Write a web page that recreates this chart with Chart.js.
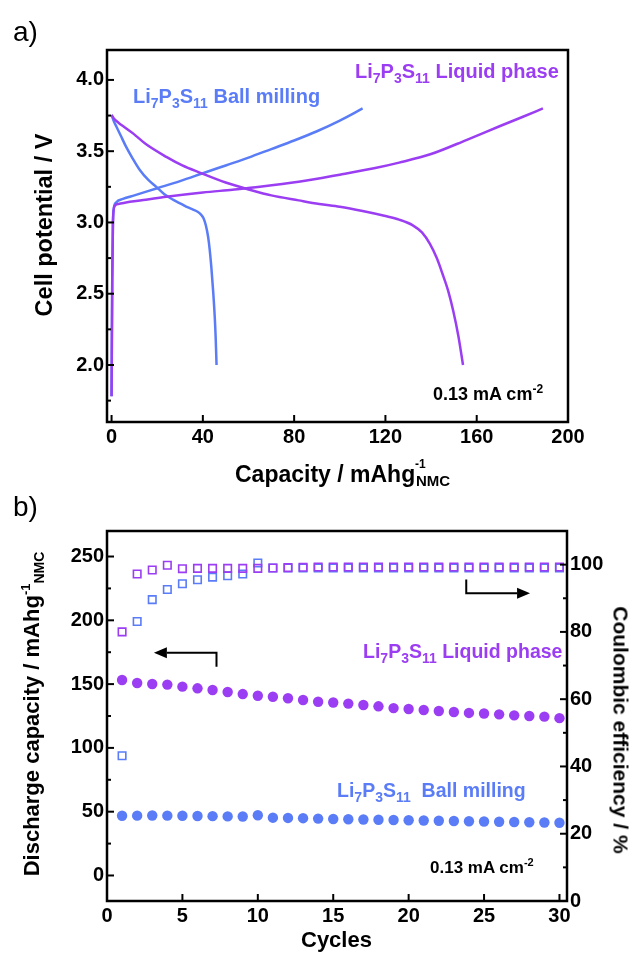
<!DOCTYPE html>
<html><head><meta charset="utf-8">
<script src="https://cdn.jsdelivr.net/npm/chart.js@4.4.1/dist/chart.umd.min.js"></script>
<style>
html,body{margin:0;padding:0;background:#fff;}
#wrap{position:relative;width:636px;height:954px;overflow:hidden;font-family:"Liberation Sans",Arial,sans-serif;}
canvas{position:absolute;left:0;}
.t{position:absolute;white-space:nowrap;line-height:1;font-weight:bold;color:#000;}
.n{font-weight:normal;}
.b{color:#5a7cf7;}
.p{color:#9b3df2;}
.s{font-size:14px;position:relative;top:5px;}
.rot{transform:translate(-50%,-50%) rotate(-90deg);}
.rot2{transform:translate(-50%,-50%) rotate(90deg);}
</style></head><body>
<div id="wrap">
<canvas id="c1" width="636" height="477" style="top:0;width:636px;height:477px"></canvas>
<canvas id="c2" width="636" height="477" style="top:477px;width:636px;height:477px"></canvas>

<div class="t n" style="left:13px;top:18px;font-size:28px;">a)</div>
<div class="t b" style="left:133px;top:85.5px;font-size:20px;">Li<span class="s">7</span>P<span class="s">3</span>S<span class="s">11</span> Ball milling</div>
<div class="t p" style="left:355px;top:60.5px;font-size:20px;">Li<span class="s">7</span>P<span class="s">3</span>S<span class="s">11</span> Liquid phase</div>
<div class="t" style="left:433px;top:384.8px;font-size:18px;">0.13 mA cm<span style="font-size:12px;position:relative;top:-7px;">-2</span></div>
<div class="t" style="left:235px;top:462.5px;font-size:23px;">Capacity / mAhg</div>
<div class="t" style="left:415px;top:457.8px;font-size:12px;">-1</div>
<div class="t" style="left:416px;top:473.3px;font-size:15px;">NMC</div>
<div class="t rot" style="left:45px;top:225px;font-size:23.5px;">Cell potential / V</div>

<div class="t n" style="left:13px;top:493.3px;font-size:28px;">b)</div>
<div class="t p" style="left:363px;top:641.5px;font-size:19.5px;">Li<span class="s">7</span>P<span class="s">3</span>S<span class="s">11</span> Liquid phase</div>
<div class="t b" style="left:337px;top:780.5px;font-size:19.5px;">Li<span class="s">7</span>P<span class="s">3</span>S<span class="s">11</span>&nbsp; Ball milling</div>
<div class="t" style="left:430px;top:858.6px;font-size:17px;">0.13 mA cm<span style="font-size:11px;position:relative;top:-7px;">-2</span></div>
<div class="t" style="left:301px;top:929.4px;font-size:22px;">Cycles</div>
<div class="t rot" style="left:31.5px;top:713.5px;font-size:22px;">Discharge capacity / mAhg<span style="font-size:13px;position:relative;top:-9px;">-1</span><span style="font-size:14px;position:relative;top:5px;">NMC</span></div>
<div class="t rot2" style="left:621px;top:730px;font-size:21px;">Coulombic efficiency / %</div>
</div>
<script>
// ---------- (a) charge / discharge curves ----------
const capTicks = [0, 40, 80, 120, 160, 200];
const voltTicks = [2.0, 2.5, 3.0, 3.5, 4.0];
const voltMinor = [1.75, 2.25, 2.75, 3.25, 3.75];

const lpChCap = [0, 0.3, 0.6, 1.3, 3, 8, 15, 24, 40, 53, 65, 82, 100, 115, 126, 140, 155.7, 170, 180, 189];
const lpChV   = [1.78, 2.6, 3.0, 3.115, 3.13, 3.145, 3.16, 3.18, 3.21, 3.23, 3.25, 3.285, 3.335, 3.38, 3.42, 3.48, 3.58, 3.675, 3.74, 3.80];
const lpDisCap = [0, 1, 3, 6, 9.4, 15, 24, 31, 38.6, 50, 60.5, 70, 82, 91, 100, 110, 120, 126, 132, 136, 139.5, 142.5, 145, 147.5, 149.7, 152, 154];
const lpDisV   = [3.755, 3.73, 3.70, 3.665, 3.625, 3.55, 3.46, 3.40, 3.35, 3.28, 3.23, 3.19, 3.155, 3.13, 3.11, 3.08, 3.045, 3.02, 2.98, 2.93, 2.85, 2.75, 2.64, 2.52, 2.38, 2.2, 2.0];
const bmChCap = [0, 0.3, 0.6, 1.0, 2, 5, 10, 20, 30, 40, 50, 60, 70, 80, 90, 100, 110];
const bmChV   = [1.78, 2.6, 3.0, 3.10, 3.14, 3.165, 3.19, 3.24, 3.29, 3.345, 3.40, 3.455, 3.515, 3.575, 3.64, 3.715, 3.80];
const bmDisCap = [0, 1, 2.2, 4, 6.4, 9.2, 12.3, 16, 19.6, 23, 26.9, 30.5, 33.5, 35.7, 37.7, 39.2, 40.3, 41.3, 42.3, 43, 43.7, 44.5, 45.2, 45.6, 46];
const bmDisV   = [3.755, 3.71, 3.67, 3.61, 3.53, 3.45, 3.37, 3.30, 3.25, 3.20, 3.16, 3.13, 3.105, 3.09, 3.075, 3.055, 3.03, 2.98, 2.90, 2.81, 2.69, 2.52, 2.34, 2.2, 2.0];

// ---------- (b) cycling ----------
const cycles = [1,2,3,4,5,6,7,8,9,10,11,12,13,14,15,16,17,18,19,20,21,22,23,24,25,26,27,28,29,30];
const cycleTicks = [0, 5, 10, 15, 20, 25, 30];
const capLeftTicks = [0, 50, 100, 150, 200, 250];
const capLeftMinor = [25, 75, 125, 175, 225];
const ceTicks = [0, 20, 40, 60, 80, 100];
const ceMinor = [10, 30, 50, 70, 90];
const lpCap = [153.2,150.9,150.1,149.6,148.0,146.7,145.4,143.8,142.2,140.9,140.1,138.9,137.5,136.2,135.6,134.7,133.6,132.6,131.2,130.5,129.7,128.9,128.1,127.4,127.0,126.3,125.5,125.0,124.5,123.3];
const bmCap = [46.8,46.9,47.0,46.9,46.8,46.6,46.5,46.3,46.2,47.2,45.3,45.1,44.9,44.6,44.3,44.1,43.9,43.7,43.5,43.3,43.1,42.9,42.7,42.5,42.3,42.1,41.9,41.7,41.5,41.3];
const lpCE = [80.0,97.2,98.4,99.8,98.8,98.9,98.9,98.9,98.9,98.9,99.0,99.1,99.2,99.3,99.3,99.3,99.3,99.3,99.3,99.3,99.3,99.3,99.3,99.3,99.3,99.3,99.3,99.3,99.3,99.3];
const bmCE = [43.2,83.1,89.6,92.6,94.3,95.5,96.3,96.7,97.2,100.5,99.0,99.0,99.0,99.0,99.0,99.0,99.0,99.0,99.0,99.0,99.0,99.0,99.0,99.0,99.0,99.0,99.0,99.0,99.0,99.0];

const BLUE = '#5a7cf7', PURPLE = '#9b3df2';
const FONT = {family: '"Liberation Sans", Arial, sans-serif', size: 20, weight: 'bold'};
const pts = (xs, ys) => xs.map((x, i) => ({x, y: ys[i]}));

const frame = {
  id: 'frame',
  afterDraw(chart, args, opts) {
    const {ctx, chartArea: a} = chart;
    ctx.save();
    ctx.strokeStyle = '#000';
    ctx.fillStyle = '#000';
    ctx.lineWidth = 2;
    const minor = opts.minor || {};
    Object.values(chart.scales).forEach(s => {
      const mark = (v, len) => {
        const p = s.getPixelForValue(v);
        ctx.beginPath();
        if (s.axis === 'x') { ctx.moveTo(p, a.bottom); ctx.lineTo(p, a.bottom - len); }
        else if (s.position === 'left') { ctx.moveTo(a.left, p); ctx.lineTo(a.left + len, p); }
        else { ctx.moveTo(a.right, p); ctx.lineTo(a.right - len, p); }
        ctx.stroke();
      };
      s.ticks.forEach(t => mark(t.value, 7));
      (minor[s.id] || []).forEach(v => mark(v, 4));
    });
    ctx.lineWidth = 2.5;
    ctx.strokeRect(a.left, a.top, a.right - a.left, a.bottom - a.top);
    (opts.arrows || []).forEach(ar => {
      const xs = chart.scales.x, ys = chart.scales[ar.axis];
      const P = ar.path.map(p => [xs.getPixelForValue(p[0]), ys.getPixelForValue(p[1])]);
      const n = P.length, tip = P[n - 1], prev = P[n - 2];
      const dx = tip[0] - prev[0], dy = tip[1] - prev[1], L = Math.hypot(dx, dy);
      const ux = dx / L, uy = dy / L, hl = 13, hw = 5.5;
      ctx.lineWidth = 2;
      ctx.beginPath();
      ctx.moveTo(P[0][0], P[0][1]);
      for (let i = 1; i < n - 1; i++) ctx.lineTo(P[i][0], P[i][1]);
      ctx.lineTo(tip[0] - ux * hl, tip[1] - uy * hl);
      ctx.stroke();
      ctx.beginPath();
      ctx.moveTo(tip[0], tip[1]);
      ctx.lineTo(tip[0] - ux * hl - uy * hw, tip[1] - uy * hl + ux * hw);
      ctx.lineTo(tip[0] - ux * hl + uy * hw, tip[1] - uy * hl - ux * hw);
      ctx.closePath();
      ctx.fill();
    });
    ctx.restore();
  }
};

const axisBase = (ticksArr, fmt) => ({
  type: 'linear',
  grid: {display: false, drawTicks: false},
  border: {display: false},
  afterBuildTicks: s => { s.ticks = ticksArr.map(v => ({value: v})); },
  ticks: {font: FONT, color: '#000', autoSkip: false, maxRotation: 0, callback: fmt || (v => v)}
});

const lineDs = (data, color) => ({data, showLine: true, borderColor: color, borderWidth: 2.5, pointRadius: 0, fill: false, cubicInterpolationMode: 'monotone'});

new Chart(document.getElementById('c1'), {
  type: 'scatter',
  data: {datasets: [
    lineDs(pts(lpChCap, lpChV), PURPLE),
    lineDs(pts(lpDisCap, lpDisV), PURPLE),
    lineDs(pts(bmChCap, bmChV), BLUE),
    lineDs(pts(bmDisCap, bmDisV), BLUE)
  ]},
  options: {
    responsive: false, animation: false, devicePixelRatio: 1, events: [],
    layout: {padding: {top: 50, right: 68, bottom: 0, left: 0}},
    plugins: {legend: {display: false}, tooltip: {enabled: false}, frame: {minor: {y: voltMinor}}},
    scales: {
      x: Object.assign(axisBase(capTicks), {min: -2, max: 200, position: 'bottom', afterFit: s => { s.height = 55; }}),
      y: Object.assign(axisBase(voltTicks, v => Number(v).toFixed(1)), {min: 1.6, max: 4.21, position: 'left', afterFit: s => { s.width = 107; }})
    }
  },
  plugins: [frame]
});

const sq = (data, color) => ({data, yAxisID: 'y1', pointStyle: 'rect', pointRadius: 5.3, pointBorderWidth: 1.6, borderColor: color, backgroundColor: 'rgba(0,0,0,0)', showLine: false});
const dot = (data, color) => ({data, yAxisID: 'y', pointStyle: 'circle', pointRadius: 5.2, pointBorderWidth: 0, borderColor: color, backgroundColor: color, showLine: false});

new Chart(document.getElementById('c2'), {
  type: 'scatter',
  data: {datasets: [
    sq(pts(cycles, lpCE), PURPLE),
    sq(pts(cycles, bmCE), BLUE),
    dot(pts(cycles, lpCap), PURPLE),
    dot(pts(cycles, bmCap), BLUE)
  ]},
  options: {
    responsive: false, animation: false, devicePixelRatio: 1, events: [],
    layout: {padding: {top: 54, right: 0, bottom: 0, left: 0}},
    plugins: {legend: {display: false}, tooltip: {enabled: false},
      frame: {minor: {y: capLeftMinor, y1: ceMinor},
        arrows: [
          {axis: 'y', path: [[7.26, 163.6], [7.26, 174.6], [3.11, 174.6]]},
          {axis: 'y1', path: [[23.82, 95.6], [23.82, 91.5], [28.05, 91.5]]}
        ]}},
    scales: {
      x: Object.assign(axisBase(cycleTicks), {min: 0, max: 30.5, position: 'bottom', afterFit: s => { s.height = 53; }}),
      y: Object.assign(axisBase(capLeftTicks), {min: -20, max: 270, position: 'left', afterFit: s => { s.width = 107; }}),
      y1: Object.assign(axisBase(ceTicks), {min: 0, max: 110, position: 'right', afterFit: s => { s.width = 69; }})
    }
  },
  plugins: [frame]
});
</script>
</body></html>
